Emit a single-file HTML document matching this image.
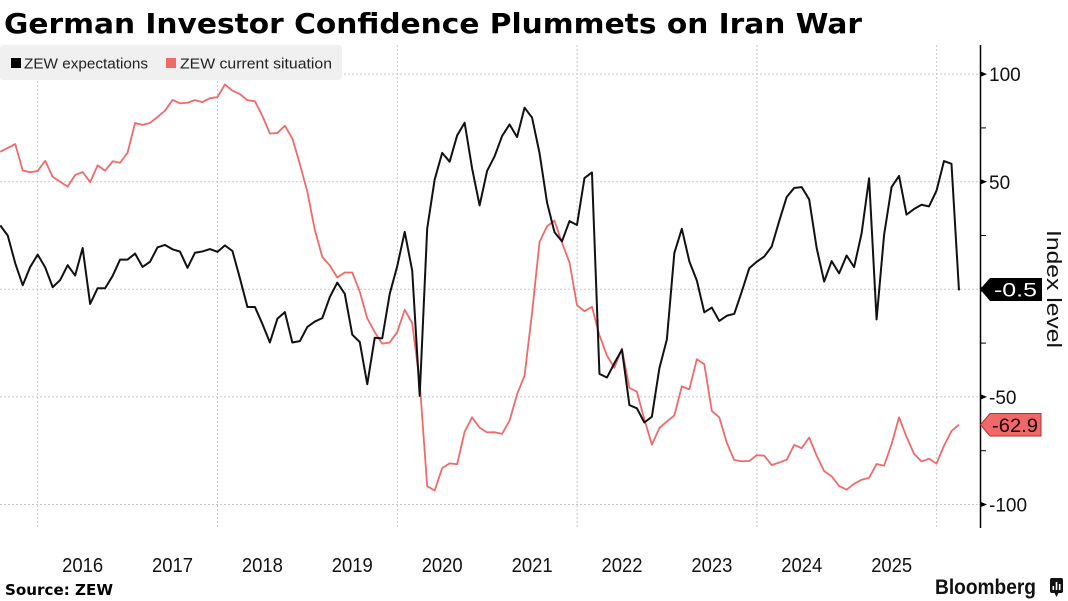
<!DOCTYPE html>
<html>
<head>
<meta charset="utf-8">
<style>
  html, body { margin: 0; padding: 0; background: #fff; }
  svg { display: block; }
</style>
</head>
<body>
<svg width="1068" height="601" viewBox="0 0 1068 601" xmlns="http://www.w3.org/2000/svg">
  <rect x="0" y="0" width="1068" height="601" fill="#ffffff"/>

  <!-- Title -->
  <text x="4" y="33" font-family="'DejaVu Sans', 'Liberation Sans', sans-serif" font-weight="bold" font-size="28" fill="#000" textLength="858" lengthAdjust="spacingAndGlyphs">German Investor Confidence Plummets on Iran War</text>

  <!-- Gridlines -->
  <g stroke="#c8c8c8" stroke-width="1" stroke-dasharray="2,2" fill="none">
    <line x1="0" y1="74.1" x2="980" y2="74.1"/>
    <line x1="0" y1="181.7" x2="980" y2="181.7"/>
    <line x1="0" y1="289.3" x2="980" y2="289.3"/>
    <line x1="0" y1="396.9" x2="980" y2="396.9"/>
    <line x1="0" y1="504.5" x2="980" y2="504.5"/>
    <line x1="37.7" y1="45" x2="37.7" y2="528"/>
    <line x1="217.5" y1="45" x2="217.5" y2="528"/>
    <line x1="397.3" y1="45" x2="397.3" y2="528"/>
    <line x1="577.1" y1="45" x2="577.1" y2="528"/>
    <line x1="756.9" y1="45" x2="756.9" y2="528"/>
    <line x1="936.7" y1="45" x2="936.7" y2="528"/>
  </g>

  <!-- Legend -->
  <rect x="0" y="45" width="342" height="35" rx="3" ry="3" fill="#f0f0f0"/>
  <rect x="11" y="58" width="10" height="10" fill="#000"/>
  <text x="24" y="68.5" font-family="'Liberation Sans', sans-serif" font-size="15" fill="#222" textLength="124" lengthAdjust="spacingAndGlyphs">ZEW expectations</text>
  <rect x="166" y="58" width="10" height="10" fill="#ef6a6a"/>
  <text x="180" y="68.5" font-family="'Liberation Sans', sans-serif" font-size="15" fill="#222" textLength="152" lengthAdjust="spacingAndGlyphs">ZEW current situation</text>

  <!-- Series: data coords (monthIndex from Jul 2015, value) -->
  <g transform="translate(0.25,289.3) scale(7.49,-2.152)">
    <polyline fill="none" stroke="#ef6a6a" stroke-width="1.8" stroke-linejoin="round" vector-effect="non-scaling-stroke"
      points="0,63.9 1,65.7 2,67.5 3,55.2 4,54.4 5,55.0
      6,59.7 7,52.3 8,50.0 9,47.7 10,53.1 11,54.5 12,49.8 13,57.6 14,55.1 15,59.5 16,58.8 17,63.5
      18,77.3 19,76.4 20,77.3 21,80.1 22,83.0 23,88.0 24,86.4 25,86.7 26,87.9 27,87.0 28,88.8 29,89.3
      30,95.2 31,92.3 32,90.7 33,87.9 34,87.4 35,80.6 36,72.4 37,72.6 38,76.0 39,70.1 40,58.2 41,45.3
      42,27.6 43,15.0 44,11.1 45,5.5 46,7.8 47,7.8 48,-1.1 49,-13.5 50,-19.9 51,-25.3 52,-24.7 53,-19.9
      54,-9.5 55,-15.7 56,-43.1 57,-91.5 58,-93.5 59,-83.1 60,-80.9 61,-81.3 62,-66.2 63,-59.5 64,-64.3 65,-66.5
      66,-66.4 67,-67.2 68,-61.0 69,-48.8 70,-40.1 71,-11.0 72,21.9 73,29.3 74,31.9 75,21.6 76,12.5 77,-7.4
      78,-10.2 79,-8.1 80,-21.4 81,-30.8 82,-36.5 83,-27.6 84,-45.8 85,-47.6 86,-60.5 87,-72.2 88,-64.5 89,-61.4
      90,-58.6 91,-45.1 92,-46.5 93,-32.5 94,-34.8 95,-56.5 96,-59.5 97,-71.3 98,-79.4 99,-79.9 100,-79.8 101,-77.1
      102,-77.3 103,-81.7 104,-80.5 105,-79.2 106,-72.3 107,-73.8 108,-68.9 109,-77.3 110,-84.5 111,-86.9 112,-91.4 113,-93.1
      114,-90.4 115,-88.5 116,-87.6 117,-81.2 118,-82.0 119,-72.0 120,-59.5 121,-68.6 122,-76.4 123,-80.0 124,-78.7 125,-81.0
      126,-72.7 127,-65.9 128,-62.9"/>
    <polyline fill="none" stroke="#111" stroke-width="2" stroke-linejoin="round" vector-effect="non-scaling-stroke"
      points="0,29.7 1,25.0 2,12.1 3,1.9 4,10.4 5,16.1
      6,10.2 7,1.0 8,4.3 9,11.2 10,6.4 11,19.2 12,-6.8 13,0.5 14,0.5 15,6.2 16,13.8 17,13.8
      18,16.6 19,10.4 20,12.8 21,19.5 22,20.6 23,18.6 24,17.5 25,10.0 26,17.0 27,17.6 28,18.7 29,17.4
      30,20.4 31,17.8 32,5.1 33,-8.2 34,-8.2 35,-16.1 36,-24.7 37,-13.7 38,-10.6 39,-24.7 40,-24.1 41,-17.5
      42,-15.0 43,-13.4 44,-3.6 45,3.1 46,-2.1 47,-21.1 48,-24.5 49,-44.1 50,-22.5 51,-22.8 52,-2.1 53,10.7
      54,26.7 55,8.7 56,-49.5 57,28.2 58,51.0 59,63.4 60,59.3 61,71.5 62,77.4 63,56.1 64,39.0 65,55.0
      66,61.8 67,71.2 68,76.6 69,70.7 70,84.4 71,79.8 72,63.3 73,40.4 74,26.5 75,22.3 76,31.7 77,29.9
      78,51.7 79,54.3 80,-39.3 81,-41.0 82,-34.3 83,-28.0 84,-53.8 85,-55.3 86,-61.9 87,-59.2 88,-36.7 89,-23.3
      90,16.9 91,28.1 92,13.0 93,4.1 94,-10.7 95,-8.5 96,-14.7 97,-12.3 98,-11.4 99,-1.1 100,9.8 101,12.8
      102,15.2 103,19.9 104,31.7 105,42.9 106,47.1 107,47.5 108,41.8 109,19.2 110,3.6 111,13.1 112,7.4 113,15.7
      114,10.3 115,26.0 116,51.6 117,-14.0 118,25.2 119,47.5 120,52.7 121,34.7 122,37.3 123,39.3 124,38.5 125,45.8
      126,59.6 127,58.3 128,-0.5"/>
  </g>

  <!-- Right axis -->
  <line x1="980.5" y1="45" x2="980.5" y2="528" stroke="#000" stroke-width="1.5"/>
  <g fill="#000">
    <polygon points="981,71.6 987,74.1 981,76.6"/>
    <polygon points="981,179.2 987,181.7 981,184.2"/>
    <polygon points="981,286.8 987,289.3 981,291.8"/>
    <polygon points="981,394.4 987,396.9 981,399.4"/>
    <polygon points="981,502 987,504.5 981,507"/>
  </g>
  <g stroke="#000" stroke-width="1">
    <line x1="980" y1="127.9" x2="986" y2="127.9"/>
    <line x1="980" y1="235.5" x2="986" y2="235.5"/>
    <line x1="980" y1="343.1" x2="986" y2="343.1"/>
    <line x1="980" y1="450.7" x2="986" y2="450.7"/>
  </g>
  <g font-family="'Liberation Sans', sans-serif" font-size="19" fill="#111">
    <text x="989" y="81.2">100</text>
    <text x="989" y="188.8">50</text>
    <text x="989" y="404">-50</text>
    <text x="989" y="511.6">-100</text>
  </g>

  <!-- Axis title -->
  <text transform="translate(1047,289) rotate(90)" text-anchor="middle" font-family="'Liberation Sans', sans-serif" font-size="20" fill="#111" textLength="118" lengthAdjust="spacingAndGlyphs">Index level</text>

  <!-- Value tags -->
  <polygon points="980,289.3 990,278 1042,278 1042,301 990,301" fill="#000"/>
  <text x="994" y="296.5" font-family="'Liberation Sans', sans-serif" font-size="19" fill="#fff" textLength="43" lengthAdjust="spacingAndGlyphs">-0.5</text>
  <polygon points="980.5,424.7 990,413.5 1041,413.5 1041,436 990,436" fill="#f06868" stroke="#a33" stroke-width="1"/>
  <text x="992" y="431.8" font-family="'Liberation Sans', sans-serif" font-size="19" fill="#1a0000" textLength="46" lengthAdjust="spacingAndGlyphs">-62.9</text>

  <!-- X axis year labels -->
  <g font-family="'Liberation Sans', sans-serif" font-size="20" fill="#111" text-anchor="middle">
    <text x="82.6" y="572" textLength="41" lengthAdjust="spacingAndGlyphs">2016</text>
    <text x="172.5" y="572" textLength="41" lengthAdjust="spacingAndGlyphs">2017</text>
    <text x="262.4" y="572" textLength="41" lengthAdjust="spacingAndGlyphs">2018</text>
    <text x="352.3" y="572" textLength="41" lengthAdjust="spacingAndGlyphs">2019</text>
    <text x="442.2" y="572" textLength="41" lengthAdjust="spacingAndGlyphs">2020</text>
    <text x="532.1" y="572" textLength="41" lengthAdjust="spacingAndGlyphs">2021</text>
    <text x="622.0" y="572" textLength="41" lengthAdjust="spacingAndGlyphs">2022</text>
    <text x="711.9" y="572" textLength="41" lengthAdjust="spacingAndGlyphs">2023</text>
    <text x="801.8" y="572" textLength="41" lengthAdjust="spacingAndGlyphs">2024</text>
    <text x="891.7" y="572" textLength="41" lengthAdjust="spacingAndGlyphs">2025</text>
  </g>

  <!-- Footer -->
  <text x="5" y="595" font-family="'DejaVu Sans', 'Liberation Sans', sans-serif" font-weight="bold" font-size="15" fill="#000" textLength="108" lengthAdjust="spacingAndGlyphs">Source: ZEW</text>
  <text x="935" y="594" font-family="'Liberation Sans', sans-serif" font-weight="bold" font-size="21" fill="#111" textLength="101" lengthAdjust="spacingAndGlyphs">Bloomberg</text>
  <g>
    <rect x="1050" y="578" width="13" height="15" rx="2" ry="2" fill="#111"/>
    <polygon points="1054,592 1059,592 1056.5,597" fill="#111"/>
    <rect x="1052.5" y="586" width="1.6" height="4" fill="#fff"/>
    <rect x="1055.7" y="582" width="1.6" height="8" fill="#fff"/>
    <rect x="1058.9" y="584" width="1.6" height="6" fill="#fff"/>
  </g>
</svg>
</body>
</html>
